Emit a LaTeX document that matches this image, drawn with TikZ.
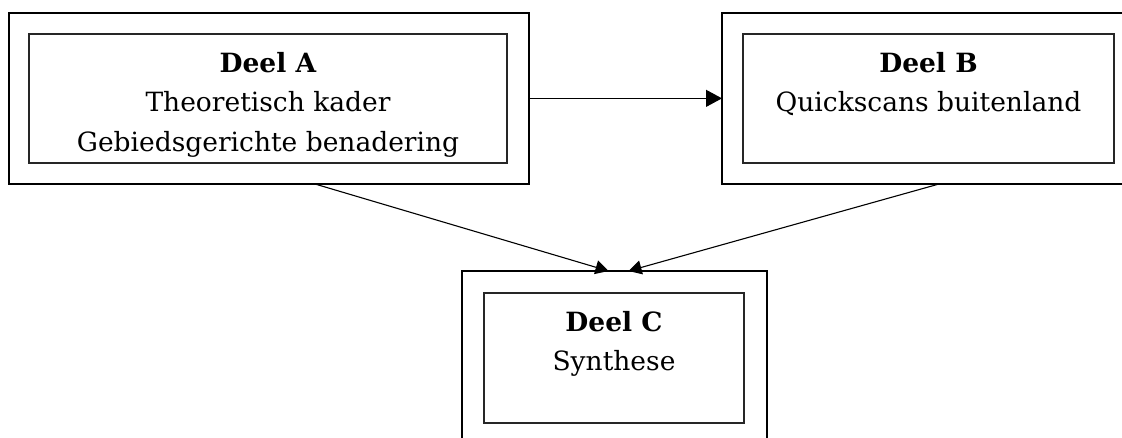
\documentclass[tikz,border=0pt]{standalone}
\usepackage{fontspec}
\setmainfont{DejaVu Serif}
\usetikzlibrary{arrows.meta}

\tikzset{
  outerframe/.style={draw=black, line width=1.8pt, inner sep=0pt, outer sep=0pt},
  innerframe/.style={draw=black!85, line width=1.4pt, inner sep=0pt, outer sep=0pt},
  boxtext/.style={anchor=north, align=center, inner sep=0pt,
    font=\fontsize{26.5}{39.5}\selectfont},
  arr/.style={line width=1.1pt, -{Triangle[length=13pt,width=14pt]}},
  bigarr/.style={line width=1.1pt, -{Triangle[length=16pt,width=17pt]}},
}

\begin{document}
\begin{tikzpicture}[x=1pt, y=-1pt]
  \useasboundingbox (0,0) rectangle (1122,437);
  \clip (0,0) rectangle (1122,437);

  % Deel A
  \node[outerframe, minimum width=520pt, minimum height=171.3pt] (Aout) at (269,98.35) {};
  \node[innerframe, minimum width=478pt, minimum height=129pt] (Ain) at (268,98.5) {};
  \node[boxtext] (Atext) at ([yshift=-18pt]Ain.north)
    {\textbf{Deel A}\\Theoretisch kader\\Gebiedsgerichte benadering};

  % Deel B
  \node[outerframe, minimum width=414pt, minimum height=171.3pt] (Bout) at (929,98.35) {};
  \node[innerframe, minimum width=371pt, minimum height=129pt] (Bin) at (928.5,98.5) {};
  \node[boxtext] (Btext) at ([yshift=-18pt]Bin.north)
    {\textbf{Deel B}\\Quickscans buitenland};

  % Deel C
  \node[outerframe, minimum width=305pt, minimum height=174pt] (Cout) at (614.5,358) {};
  \node[innerframe, minimum width=260pt, minimum height=130pt] (Cin) at (614,358) {};
  \node[boxtext] (Ctext) at ([yshift=-18pt]Cin.north)
    {\textbf{Deel C}\\Synthese};

  % connectors
  \draw[bigarr] (Aout.east) -- (Bout.west);
  \draw[arr] ([xshift=46pt]Aout.south) -- ([xshift=-6pt]Cout.north);
  \draw[arr] ([xshift=10pt]Bout.south) -- ([xshift=14pt]Cout.north);
\end{tikzpicture}
\end{document}
